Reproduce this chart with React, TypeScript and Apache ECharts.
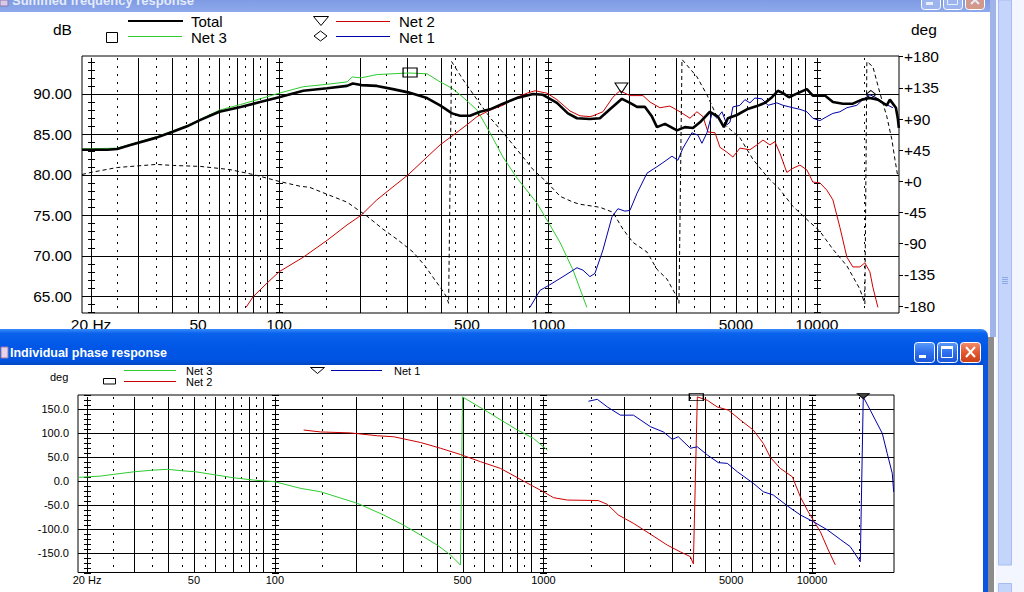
import React, { useEffect, useRef } from 'react';
import * as echarts from 'echarts';

// ---------- axis structure ----------
const F_MIN = 18.5;
const F_MAX = 20200;
const FREQ_LABELS = [20, 50, 100, 500, 1000, 5000, 10000];
const DECADE_FREQS = [20, 100, 1000, 10000];
const SOLID_FREQS = [30, 40, 50, 60, 70, 80, 90, 200, 300, 400, 500, 600, 700, 800, 900, 2000, 3000, 4000, 5000, 6000, 7000, 8000, 9000];
const DOTTED_FREQS = [25, 35, 45, 55, 65, 75, 85, 150, 250, 350, 450, 550, 650, 750, 850, 1500, 2500, 3500, 4500, 5500, 6500, 7500, 8500, 15000];
const DB_TICKS = [65, 70, 75, 80, 85, 90];
const DEG_TICKS_TOP = [-180, -135, -90, -45, 0, 45, 90, 135, 180];
const DEG_TICKS_BOTTOM = [-150, -100, -50, 0, 50, 100, 150];

// ---------- data: summed frequency response (Hz, dB) ----------
const totalSpl: number[][] = [
  [18.5, 83.1], [23, 83.1], [25, 83.2], [28, 83.7], [35, 84.6], [40, 85.3], [45.5, 86.0], [51, 86.8], [60, 87.8], [72, 88.4],
  [85, 89.0], [100, 89.6], [123, 90.4], [151, 90.7], [179, 91.0], [188, 91.3], [202, 91.1], [231, 91.0], [265, 90.6], [302, 90.2],
  [355, 89.5], [397, 88.6], [440, 87.6], [471, 87.3], [513, 87.3], [559, 87.8], [609, 88.1], [680, 88.8], [767, 89.5], [880, 90.0],
  [958, 89.9], [1080, 88.9], [1186, 87.6], [1282, 87.0], [1432, 86.9], [1560, 87.0], [1700, 88.1], [1884, 89.4], [2018, 88.9], [2143, 88.4],
  [2295, 88.4], [2436, 87.2], [2543, 85.9], [2723, 86.3], [3018, 85.5], [3230, 85.9], [3460, 85.8], [3675, 86.5], [4000, 87.8], [4285, 87.2],
  [4510, 85.9], [4667, 87.0], [5042, 87.4], [5495, 88.1], [5985, 88.5], [6410, 88.9], [6810, 89.6], [7160, 90.4], [7480, 90.1], [7870, 89.6],
  [8500, 90.1], [9180, 90.6], [9660, 89.8], [10710, 89.8], [11470, 89.0], [12500, 88.8], [13600, 88.8], [14700, 89.3], [15740, 89.5], [16860, 89.3],
  [17600, 88.9], [18200, 88.6], [18680, 89.3], [19670, 88.3], [19990, 87.0], [20170, 85.8],
];
const net3Spl: number[][] = [
  [18.5, 83.2], [25, 83.3], [35, 84.7], [45.5, 86.1], [60, 88.0], [72, 88.7], [85, 89.4], [100, 90.1], [123, 90.9], [151, 91.2],
  [179, 91.5], [187, 92.1], [202, 92.0], [231, 92.4], [265, 92.5], [302, 92.6], [355, 92.5], [397, 91.5], [440, 90.7], [483, 89.6],
  [545, 88.0], [609, 85.2], [680, 82.2], [767, 79.6], [910, 76.5], [992, 74.4], [1110, 71.6], [1240, 68.2], [1395, 63.6],
];
const net2Spl: number[][] = [
  [75.4, 63.6], [80, 64.9], [90.2, 66.6], [100, 68.0], [123, 69.8], [151, 71.9], [179, 73.8], [202, 75.0], [231, 76.9], [265, 78.5],
  [302, 80.0], [355, 82.2], [397, 83.7], [440, 84.8], [500, 86.2], [545, 87.2], [609, 88.0], [680, 88.6], [767, 89.6], [836, 90.1],
  [895, 90.4], [992, 90.1], [1080, 89.3], [1207, 87.9], [1315, 87.3], [1432, 87.2], [1469, 87.3], [1601, 87.8], [1744, 89.6], [1852, 90.4],
  [2018, 89.8], [2255, 89.8], [2395, 89.0], [2608, 88.3], [2841, 88.5], [3096, 87.8], [3373, 87.0], [3580, 87.8], [3770, 87.2], [3935, 85.3],
  [4180, 85.2], [4360, 83.4], [4628, 82.8], [4872, 82.2], [5174, 83.3], [5636, 83.1], [5985, 83.7], [6300, 84.3], [6685, 83.7], [6980, 84.1],
  [7280, 82.7], [7730, 80.3], [8140, 80.8], [8650, 81.2], [9180, 80.6], [9660, 79.1], [10260, 79.0], [10890, 78.1], [11470, 76.9], [12180, 73.5],
  [12930, 69.8], [13610, 68.6], [14450, 68.6], [15080, 69.1], [15740, 68.0], [16150, 66.1], [16860, 63.6],
];
const net1Spl: number[][] = [
  [857, 63.6], [934, 65.7], [1017, 66.4], [1137, 67.4], [1282, 68.5], [1349, 68.2], [1432, 67.4], [1495, 67.8], [1601, 70.7], [1730, 74.8],
  [1820, 75.8], [1933, 75.5], [2018, 75.6], [2143, 77.7], [2335, 80.2], [2543, 81.0], [2676, 81.5], [2891, 82.3], [3041, 81.8], [3176, 83.3],
  [3430, 85.2], [3612, 84.9], [3737, 83.9], [3902, 85.2], [4073, 87.6], [4250, 87.0], [4436, 87.8], [4628, 86.2], [4750, 86.5], [4872, 88.4],
  [5174, 88.6], [5398, 89.3], [5636, 88.9], [5882, 89.5], [6245, 89.4], [6577, 88.6], [7100, 88.9], [7480, 88.6], [8140, 88.3], [8650, 88.1],
  [9180, 87.8], [9660, 87.0], [10260, 86.7], [10890, 87.2], [11470, 87.6], [12180, 87.8], [12930, 88.3], [14080, 88.6], [14830, 89.3], [15740, 89.9],
  [16710, 89.5], [17600, 88.9], [19170, 88.3],
];
// summed phase (Hz, deg) on right axis
const totalPhase: number[][] = [
  [18.5, 10], [20, 13], [25, 20], [35, 24.5], [40.4, 23], [51, 21.6], [65.7, 17], [80, 10], [100, 0], [119.7, -7],
  [130, -8.6], [151, -18.7], [179, -30], [212, -50], [243.5, -69], [274.5, -83.5], [315, -102], [349, -122], [373, -138], [402, -155.5],
  [420, -167], [427, -176], [438, 173], [483, 147], [545, 118], [609, 92], [680, 70.6], [767, 46], [880, 17], [992, -1.4],
  [1110, -21.6], [1240, -30], [1315, -33], [1560, -37.4], [1744, -44.6], [1900, -69], [2070, -88], [2335, -102], [2543, -127], [2770, -141],
  [3018, -167], [3070, -176], [3150, 176], [3580, 151], [3900, 125], [4250, 93.6], [4628, 79], [5174, 63], [5780, 32], [6520, 7],
  [7280, -11.5], [8140, -36], [9180, -55], [10260, -72], [11470, -98], [12930, -122], [14450, -155.5], [15080, -177], [15340, 173], [16150, 165.6],
  [17140, 128], [18200, 93.6], [19000, 60.5], [19500, 32], [20000, 7],
];

// ---------- data: individual phase response (Hz, deg) ----------
const net3Phase: number[][] = [
  [18.6, 8.3], [22.5, 11], [25.1, 14.6], [30, 20], [35.4, 23.5], [39.9, 25], [45.3, 22], [50.7, 20], [60.7, 13], [70.2, 7.5],
  [83.3, 2.7], [100, -0.8], [124.6, -14.6], [148, -21.7], [203, -45.8], [254, -70], [301, -91], [349, -112], [403, -133], [451, -153.5],
  [491, -174.4], [500, 176], [619, 145], [800, 107], [918, 89.6], [1035, 65],
];
const net2Phase: number[][] = [
  [128, 107], [148, 103], [191, 101], [241, 95], [277, 93], [349, 81], [414, 69], [491, 56], [583, 41], [692, 27],
  [843, 0.6], [1000, -21.7], [1090, -34], [1228, -39], [1600, -40], [1731, -48], [1900, -70], [2163, -87.5], [2502, -110], [2894, -133],
  [3235, -147], [3525, -157], [3617, -172], [3742, 176], [4077, 169], [4441, 155], [4881, 148.5], [5410, 128], [6045, 107], [6589, 79],
  [6998, 50], [7621, 27], [8450, 9.6], [9048, -32], [9605, -60], [10110, -81], [10740, -105], [11500, -143], [12210, -174],
];
const net1Phase: number[][] = [
  [1471, 167], [1588, 171], [1731, 155], [1935, 138], [2163, 138], [2502, 114], [2797, 103], [3021, 87.5], [3179, 93], [3525, 69],
  [3742, 72], [4077, 55], [4480, 39], [4839, 37.5], [5272, 20], [6045, -4], [6589, -21.7], [7178, -28.5], [8093, -51], [9048, -70],
  [10110, -84], [11400, -101], [12740, -121], [13880, -136], [15130, -167.5], [15520, 176], [16480, 148.5], [18270, 100], [19060, 58], [19900, 16.7],
  [20150, -22],
];

// cursor markers (Hz, value)
const markNet3Top = [307, 92.66];
const markNet2Top = [1876, 90.74];
const markNet1Top = [15880, 89.94];
const markNet2Bottom = [3710, 175.6];
const markNet1Bottom = [15520, 177.7];

// ---------- styles ----------
const FONT = '"Liberation Sans", Arial, sans-serif';
const GREEN = '#2FCB2F';
const RED = '#CC0000';
const BLUE = '#0000A8';
const X_MIN = Math.log10(F_MIN);
const X_MAX = Math.log10(F_MAX);

const toXY = (arr: number[][]) => arr.map(([f, v]) => [Math.log10(f), v]);

function gridItems(hLines: number[]) {
  return [
    ...DECADE_FREQS.map((f) => [Math.log10(f), 0, 2]),
    ...SOLID_FREQS.map((f) => [Math.log10(f), 0, 0]),
    ...DOTTED_FREQS.map((f) => [Math.log10(f), 0, 1]),
    ...hLines.map((v) => [0, v, 3]),
  ];
}

function makeGridRender(tickStep: number, yMin: number, yMax: number) {
  return (params: any, api: any) => {
    const cs = params.coordSys;
    const kind = api.value(2);
    const children: any[] = [];
    if (kind === 3) {
      const y = Math.round(api.coord([X_MIN, api.value(1)])[1]) + 0.5;
      children.push({ type: 'line', shape: { x1: cs.x, y1: y, x2: cs.x + cs.width, y2: y }, style: { stroke: '#000', lineWidth: 1 } });
    } else {
      const x = Math.round(api.coord([api.value(0), yMin])[0]) + 0.5;
      const style: any = { stroke: '#000', lineWidth: 1 };
      if (kind === 1) style.lineDash = [2, 6];
      children.push({ type: 'line', shape: { x1: x, y1: cs.y + 2, x2: x, y2: cs.y + cs.height }, style });
      if (kind === 2) {
        for (let v = Math.ceil(yMin / tickStep) * tickStep; v <= yMax; v += tickStep) {
          const y = Math.round(api.coord([api.value(0), v])[1]) + 0.5;
          children.push({ type: 'line', shape: { x1: x - 3.5, y1: y, x2: x + 3.5, y2: y }, style: { stroke: '#000', lineWidth: 1 } });
        }
      }
    }
    return { type: 'group', children };
  };
}

const freqFormatter = (v: number) => {
  const f = Math.round(Math.pow(10, v));
  return f === 20 ? '20 Hz' : String(f);
};

function lineSeries(name: string, data: number[][], xi: number, yi: number, color: string, width: number, extra: any = {}) {
  return {
    name,
    type: 'line',
    xAxisIndex: xi,
    yAxisIndex: yi,
    data: toXY(data),
    showSymbol: false,
    symbol: 'none',
    silent: true,
    z: 3,
    lineStyle: { color, width },
    emphasis: { disabled: true },
    ...extra,
  };
}

function marker(symbol: string, size: number[], pt: number[], fill = 'rgba(0,0,0,0)') {
  return {
    silent: true,
    symbol,
    symbolSize: size,
    label: { show: false },
    itemStyle: { color: fill, borderColor: '#000', borderWidth: 1 },
    data: [{ coord: [Math.log10(pt[0]), pt[1]] }],
  };
}

const txt = (text: string, x: number, y: number, size: number, extra: any = {}) => ({
  type: 'text',
  x,
  y,
  z: 100,
  silent: true,
  style: {
    text,
    fill: '#000',
    font: `${size}px ${FONT}`,
    textAlign: 'left',
    textVerticalAlign: 'middle',
    align: 'left',
    verticalAlign: 'middle',
    ...extra,
  },
});
const ln = (x1: number, y1: number, x2: number, y2: number, stroke: string, lineWidth = 1) => ({
  type: 'line', z: 100, silent: true, shape: { x1, y1, x2, y2 }, style: { stroke, lineWidth },
});
const rc = (x: number, y: number, width: number, height: number, style: any, r: any = 0) => ({
  type: 'rect', z: 90, silent: true, shape: { x, y, width, height, r }, style,
});
const poly = (points: number[][], style: any) => ({ type: 'polygon', z: 100, silent: true, shape: { points }, style });

function xpButton(x: number, y: number, w: number, h: number, active: boolean, kind: string) {
  const els: any[] = [];
  let fill: any;
  if (kind === 'close') {
    fill = active
      ? new echarts.graphic.LinearGradient(0, 0, 0, 1, [{ offset: 0, color: '#F08E6E' }, { offset: 0.5, color: '#E2582F' }, { offset: 1, color: '#C83E18' }])
      : '#D2988C';
  } else {
    fill = active
      ? new echarts.graphic.LinearGradient(0, 0, 0, 1, [{ offset: 0, color: '#5A9BFA' }, { offset: 0.5, color: '#2E6FEF' }, { offset: 1, color: '#1D55D8' }])
      : '#9DB5EF';
  }
  els.push(rc(x + 0.5, y + 0.5, w, h, { fill, stroke: '#FFFFFF', lineWidth: 1 }, 3));
  const gc = active ? '#FFFFFF' : '#E8EEFC';
  if (kind === 'min') {
    els.push(rc(x + 5, y + h - 7, 7, 3, { fill: gc }));
  } else if (kind === 'max') {
    els.push(rc(x + 4.5, y + 4.5, w - 9, h - 9, { fill: 'none', stroke: gc, lineWidth: 1 }));
    els.push(rc(x + 4, y + 4, w - 8, 3, { fill: gc }));
  } else {
    els.push({ ...ln(x + 6, y + 5, x + w - 5, y + h - 5, gc, 2), z: 101 });
    els.push({ ...ln(x + w - 5, y + 5, x + 6, y + h - 5, gc, 2), z: 101 });
  }
  return els.map((e) => ({ ...e, z: e.z >= 100 ? e.z + 5 : 96 }));
}

function buildOption() {
  const activeTitle = new echarts.graphic.LinearGradient(0, 0, 0, 1, [
    { offset: 0, color: '#3A8CFA' },
    { offset: 0.12, color: '#0A63EC' },
    { offset: 0.5, color: '#0056E6' },
    { offset: 0.85, color: '#0054E2' },
    { offset: 1, color: '#0047C6' },
  ]);
  const inactiveTitle = new echarts.graphic.LinearGradient(0, 0, 0, 1, [
    { offset: 0, color: '#7F9BE3' },
    { offset: 1, color: '#8EA9EC' },
  ]);

  const graphic: any[] = [
    // top (inactive) window chrome
    rc(0, 0, 990, 12, { fill: inactiveTitle }),
    rc(0, 0, 8, 6, { fill: '#D9C9E8', stroke: '#8A7AA8', lineWidth: 1 }),
    txt('Summed frequency response', 12, 0, 13, { fill: '#E4EBFB', font: `bold 13px ${FONT}` }),
    ...xpButton(921, -9, 19, 18, false, 'min'),
    ...xpButton(943, -9, 19, 18, false, 'max'),
    ...xpButton(965, -9, 19, 18, false, 'close'),
    rc(990, 0, 6, 337, { fill: '#A1B4EA' }),
    // right scrollbar strip
    rc(996, 0, 28, 592, { fill: '#F3F6FE' }),
    rc(998.5, 0, 13, 565, { fill: '#C4D5FC', stroke: '#A6BCF2', lineWidth: 1 }),
    ln(1002, 277.5, 1008, 277.5, '#8FA8EC'),
    ln(1002, 279.5, 1008, 279.5, '#8FA8EC'),
    ln(1002, 281.5, 1008, 281.5, '#8FA8EC'),
    ln(1002, 283.5, 1008, 283.5, '#8FA8EC'),
    rc(998.5, 583.5, 13, 12, { fill: '#C4D5FC', stroke: '#A6BCF2', lineWidth: 1 }),

    // top chart texts and legend
    txt('dB', 53, 29, 15.5),
    txt('deg', 911, 29, 15.5),
    ln(128, 21, 183, 21, '#000', 2),
    txt('Total', 191, 21, 15),
    poly([[313.5, 16.5], [328.5, 16.5], [321, 25.5]], { fill: '#fff', stroke: '#000', lineWidth: 1 }),
    ln(336, 21.5, 390, 21.5, RED, 1),
    txt('Net 2', 399, 21, 15),
    rc(106.5, 32.5, 11, 10, { fill: '#fff', stroke: '#000', lineWidth: 1 }),
    ln(128, 36.5, 182, 36.5, GREEN, 1),
    txt('Net 3', 191, 37, 15),
    poly([[320.5, 31], [327, 36], [320.5, 41], [314, 36]], { fill: '#fff', stroke: '#000', lineWidth: 1 }),
    ln(336, 36.5, 390, 36.5, BLUE, 1),
    txt('Net 1', 399, 37, 15),

    // bottom (active) window chrome
    rc(0, 329, 988, 36, { fill: activeTitle }, [0, 7, 0, 0]),
    rc(1, 347, 7, 11, { fill: '#E6D3EA', stroke: '#9A7AA8', lineWidth: 1 }),
    txt('Individual phase response', 10, 353, 12.5, { fill: '#FFFFFF', font: `bold 12.5px ${FONT}` }),
    ...xpButton(914, 342, 20, 20, true, 'min'),
    ...xpButton(937, 342, 20, 20, true, 'max'),
    ...xpButton(960, 342, 20, 20, true, 'close'),
    rc(983, 360, 5, 232, { fill: '#0A55E0' }),
    rc(988, 337, 6, 255, { fill: '#8C8C8C' }),

    // bottom chart texts and legend
    txt('deg', 50, 377, 11),
    ln(124, 370.5, 176, 370.5, GREEN, 1),
    txt('Net 3', 186, 371, 11),
    rc(103.5, 378.5, 12, 5.5, { fill: '#fff', stroke: '#000', lineWidth: 1 }),
    ln(124, 381.5, 176, 381.5, RED, 1),
    txt('Net 2', 186, 382, 11),
    poly([[310.5, 367.5], [324.5, 367.5], [317.5, 373.5]], { fill: '#fff', stroke: '#000', lineWidth: 1 }),
    ln(331, 370.5, 382, 370.5, BLUE, 1),
    txt('Net 1', 394, 371, 11),
  ];

  const topGrid = { left: 82, top: 56, width: 817, height: 257 };
  const botGrid = { left: 78, top: 395, width: 816, height: 177.5 };

  const xAxisBase = (gridIndex: number, size: number, margin: number) => ({
    type: 'value',
    gridIndex,
    min: X_MIN,
    max: X_MAX,
    axisLine: { show: false },
    axisTick: { show: false },
    splitLine: { show: false },
    axisLabel: {
      customValues: FREQ_LABELS.map((f) => Math.log10(f)),
      formatter: freqFormatter,
      color: '#000',
      fontFamily: FONT,
      fontSize: size,
      margin,
    },
  });

  return {
    animation: false,
    backgroundColor: '#ffffff',
    graphic,
    grid: [
      { ...topGrid, show: true, borderColor: '#000', borderWidth: 1, backgroundColor: '#fff', containLabel: false },
      { ...botGrid, show: true, borderColor: '#000', borderWidth: 1, backgroundColor: '#fff', containLabel: false },
    ],
    xAxis: [xAxisBase(0, 15.5, 3), xAxisBase(1, 11, 2)],
    yAxis: [
      {
        type: 'value', gridIndex: 0, min: 62.9, max: 94.7, position: 'left',
        axisLine: { show: false }, axisTick: { show: false }, splitLine: { show: false },
        axisLabel: { customValues: DB_TICKS, formatter: (v: number) => v.toFixed(2), color: '#000', fontFamily: FONT, fontSize: 15.5, margin: 10 },
      },
      {
        type: 'value', gridIndex: 0, min: -190, max: 181, position: 'right',
        axisLine: { show: false },
        axisTick: { show: true, customValues: DEG_TICKS_TOP, length: 4, lineStyle: { color: '#000' } },
        splitLine: { show: false },
        axisLabel: {
          customValues: DEG_TICKS_TOP,
          formatter: (v: number) => (v >= 0 ? '+' + v : String(v)),
          color: '#000', fontFamily: FONT, fontSize: 15.5, margin: 5,
        },
      },
      {
        type: 'value', gridIndex: 1, min: -190, max: 180, position: 'left',
        axisLine: { show: false }, axisTick: { show: false }, splitLine: { show: false },
        axisLabel: { customValues: DEG_TICKS_BOTTOM, formatter: (v: number) => v.toFixed(1), color: '#000', fontFamily: FONT, fontSize: 11, margin: 9 },
      },
    ],
    series: [
      {
        type: 'custom', xAxisIndex: 0, yAxisIndex: 0, silent: true, z: 1,
        renderItem: makeGridRender(1, 62.9, 94.7), data: gridItems(DB_TICKS),
      },
      {
        type: 'custom', xAxisIndex: 1, yAxisIndex: 2, silent: true, z: 1,
        renderItem: makeGridRender(10, -190, 180), data: gridItems(DEG_TICKS_BOTTOM),
      },
      lineSeries('Net 3', net3Spl, 0, 0, GREEN, 1, { markPoint: marker('rect', [14, 9], markNet3Top) }),
      lineSeries('Net 2', net2Spl, 0, 0, RED, 1, { markPoint: marker('path://M0,0L14,0L7,10Z', [13, 10], markNet2Top) }),
      lineSeries('Net 1', net1Spl, 0, 0, BLUE, 1, { markPoint: marker('diamond', [10, 8], markNet1Top) }),
      lineSeries('Phase', totalPhase, 0, 1, '#000', 1, { lineStyle: { color: '#000', width: 1, type: [4, 3] } }),
      lineSeries('Total', totalSpl, 0, 0, '#000', 2.6, { z: 4 }),
      lineSeries('Net 3 phase', net3Phase, 1, 2, GREEN, 1),
      lineSeries('Net 2 phase', net2Phase, 1, 2, RED, 1, { markPoint: marker('rect', [14, 7], markNet2Bottom) }),
      lineSeries('Net 1 phase', net1Phase, 1, 2, BLUE, 1, { markPoint: marker('path://M0,0L12,0L6,5Z', [12, 5], markNet1Bottom, '#444') }),
    ],
  };
}

export default function App() {
  const ref = useRef<HTMLDivElement>(null);
  useEffect(() => {
    if (!ref.current) return;
    const chart = echarts.init(ref.current, undefined, { renderer: 'svg' });
    chart.setOption(buildOption() as any);
    return () => chart.dispose();
  }, []);
  return (
    <div
      ref={ref}
      style={{ position: 'fixed', left: 0, top: 0, width: 1024, height: 592, background: '#fff' }}
    />
  );
}
